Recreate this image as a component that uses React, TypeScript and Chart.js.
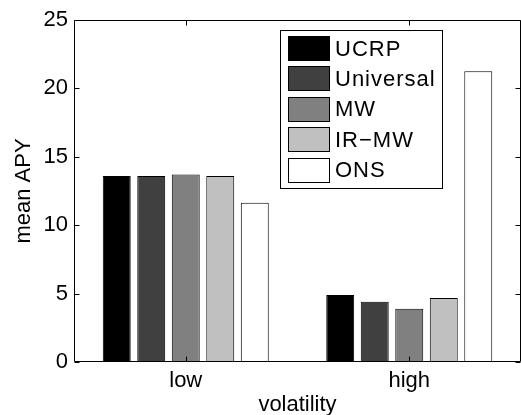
import React, { useEffect, useRef } from "react";
import { Chart, registerables } from "chart.js";

Chart.register(...registerables);

const categories = ["low", "high"];
const seriesNames = ["UCRP", "Universal", "MW", "IR\u2212MW", "ONS"];
const ucrp = [13.6, 4.9];
const universal = [13.6, 4.41];
const mw = [13.7, 3.9];
const irmw = [13.6, 4.68];
const ons = [11.65, 21.25];
const seriesColors = ["#000000", "#404040", "#808080", "#c0c0c0", "#ffffff"];
const yTicks = [0, 5, 10, 15, 20, 25];

const FONT = "'Liberation Sans', Arial, Helvetica, sans-serif";

const framePlugin = {
  id: "matlabFrame",
  afterDatasetsDraw(chart: any) {
    const { ctx, chartArea } = chart;
    const { left, right, top, bottom } = chartArea;
    const ys = chart.scales.y;
    const xs = chart.scales.x;
    ctx.save();
    ctx.strokeStyle = "#000";
    ctx.lineWidth = 1;
    const L = Math.round(left) + 0.5;
    const R = Math.round(right) - 0.5;
    const T = Math.round(top) + 0.5;
    const B = Math.round(bottom) - 0.5;
    ctx.beginPath();
    ctx.rect(L, T, R - L, B - T);
    ctx.stroke();
    const tl = 5;
    ctx.beginPath();
    yTicks.forEach((v) => {
      const p = Math.round(ys.getPixelForValue(v)) + 0.5;
      ctx.moveTo(L, p);
      ctx.lineTo(L + tl, p);
      ctx.moveTo(R, p);
      ctx.lineTo(R - tl, p);
    });
    categories.forEach((_, i) => {
      const p = Math.round(xs.getPixelForValue(i)) + 0.5;
      ctx.moveTo(p, T);
      ctx.lineTo(p, T + tl);
      ctx.moveTo(p, B);
      ctx.lineTo(p, B - tl);
    });
    ctx.stroke();

    // legend box
    const bx = 280.5, by = 30.5, bw = 162, bh = 158;
    ctx.fillStyle = "#fff";
    ctx.fillRect(bx, by, bw, bh);
    ctx.strokeRect(bx, by, bw, bh);
    ctx.font = "22px " + FONT;
    try {
      (ctx as any).letterSpacing = "1px";
    } catch (e) {}
    ctx.textBaseline = "middle";
    ctx.textAlign = "left";
    chart.data.datasets.forEach((ds: any, i: number) => {
      const cy = 48 + i * 30.4;
      const sx = 288.5, sy = Math.round(cy - 12) + 0.5;
      ctx.fillStyle = ds.backgroundColor;
      ctx.fillRect(sx, sy, 41, 24);
      ctx.strokeStyle = "#000";
      ctx.strokeRect(sx, sy, 41, 24);
      ctx.fillStyle = "#000";
      ctx.fillText(ds.label, 335, cy + 1.5);
    });
    try {
      (ctx as any).letterSpacing = "0px";
    } catch (e) {}
    ctx.restore();
  },
};

export default function App() {
  const ref = useRef<HTMLCanvasElement | null>(null);
  useEffect(() => {
    document.body.style.margin = "0";
    const values = [ucrp, universal, mw, irmw, ons];
    const chart = new Chart(ref.current as HTMLCanvasElement, {
      type: "bar",
      data: {
        labels: categories,
        datasets: seriesNames.map((name, i) => ({
          label: name,
          data: values[i],
          backgroundColor: seriesColors[i],
          borderColor: "#000",
          borderWidth: 1,
          categoryPercentage: 0.772,
          barPercentage: 0.81,
        })),
      },
      options: {
        responsive: false,
        animation: false,
        devicePixelRatio: 1,
        layout: { padding: { top: 20, right: 0, left: 0, bottom: 0 } },
        plugins: { legend: { display: false }, tooltip: { enabled: false } },
        scales: {
          x: {
            grid: { display: false, drawTicks: false },
            border: { display: false },
            ticks: {
              color: "#000",
              padding: 6,
              font: { family: FONT, size: 22, lineHeight: 1.2 },
            },
            title: {
              display: true,
              text: "volatility",
              color: "#000",
              padding: { top: 0, bottom: 0 },
              font: { family: FONT, size: 22, lineHeight: 0.9 },
            },
            afterFit: (s: any) => {
              s.height = 53;
            },
          },
          y: {
            min: 0,
            max: 25,
            grid: { display: false, drawTicks: false },
            border: { display: false },
            ticks: {
              stepSize: 5,
              color: "#000",
              padding: 6,
              font: { family: FONT, size: 22, lineHeight: 1.2 },
            },
            title: {
              display: true,
              text: "mean APY",
              color: "#000",
              padding: { top: 11, bottom: 0 },
              font: { family: FONT, size: 22, lineHeight: 1.2 },
            },
            afterFit: (s: any) => {
              s.width = 74;
            },
          },
        },
      },
      plugins: [framePlugin],
    } as any);
    return () => chart.destroy();
  }, []);
  return (
    <div style={{ width: 521, height: 415, overflow: "hidden", background: "#fff" }}>
      <canvas ref={ref} width={521} height={415} style={{ display: "block" }} />
    </div>
  );
}
